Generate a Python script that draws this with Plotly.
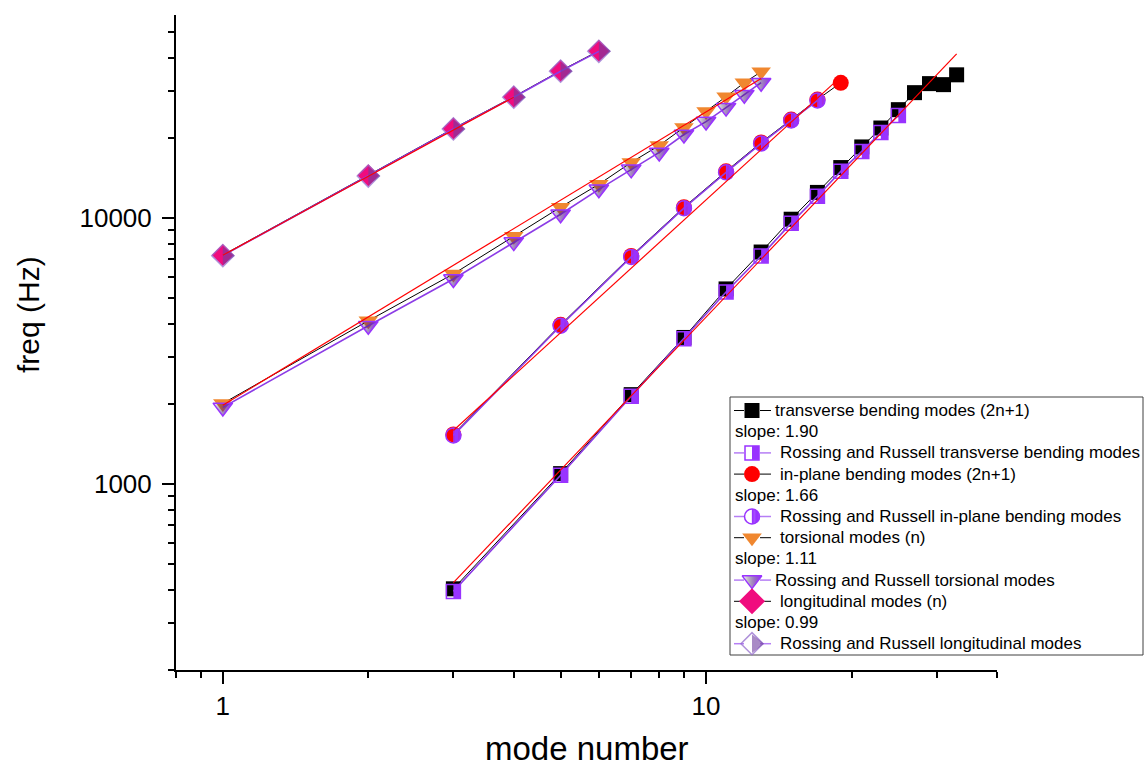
import math
import plotly.graph_objects as go

FONT = "Liberation Sans, Arial, Helvetica, sans-serif"

# ---------------- data ----------------
trans_n = [3, 5, 7, 9, 11, 13, 15, 17, 19, 21, 23, 25, 27, 29, 31, 33]
trans_f = [404, 1095, 2170, 3560, 5420, 7460, 9910, 12500, 15500, 18530,
           21830, 25590, 29650, 32060, 31780, 34600]
rr_trans_n = [3, 5, 7, 9, 11, 13, 15, 17, 19, 21, 23, 25]
rr_trans_f = [395, 1080, 2140, 3520, 5280, 7210, 9580, 12090, 15000, 17830,
              20990, 24330]
trans_fit_n = [3, 33]
trans_fit_f = [426, 41500]

inplane_n = [3, 5, 7, 9, 11, 13, 15, 17, 19]
inplane_f = [1538, 3973, 7210, 10990, 15000, 19260, 23490, 27920, 32290]
rr_inplane_n = [3, 5, 7, 9, 11, 13, 15, 17]
rr_inplane_f = [1525, 3940, 7150, 10900, 14870, 19100, 23300, 27700]
inplane_fit_n = [3, 19]
inplane_fit_f = [1590, 34000]

tors_n = [1, 2, 3, 4, 5, 6, 7, 8, 9, 10, 11, 12, 13]
tors_f = [2011, 4113, 6170, 8560, 11000, 13410, 16200, 18770, 21920, 25160,
          28630, 32320, 35530]
rr_tors_n = [1, 2, 3, 4, 5, 6, 7, 8, 9, 10, 11, 12, 13]
rr_tors_f = [1943, 3940, 5908, 8130, 10350, 12840, 15260, 17670, 20640, 23080,
             26040, 29140, 32320]
tors_fit_n = [1, 13]
tors_fit_f = [1980, 33500]

long_n = [1, 2, 3, 4, 5, 6]
long_f = [7266, 14490, 21740, 28630, 35840, 42590]
rr_long_n = [1, 2, 3, 4, 5, 6]
rr_long_f = [7230, 14400, 21650, 28500, 35700, 42400]
long_fit_n = [1, 4]
long_fit_f = [7250, 28500]

legend_labels = [
    "transverse bending modes (2n+1)", "slope: 1.90",
    "Rossing and Russell transverse bending modes",
    "in-plane bending modes (2n+1)", "slope: 1.66",
    "Rossing and Russell in-plane bending modes",
    "torsional modes (n)", "slope: 1.11",
    "Rossing and Russell torsional modes",
    "longitudinal modes (n)", "slope: 0.99",
    "Rossing and Russell longitudinal modes",
]
legend_kinds = ["m-square", None, "r-square", "m-circle", None, "r-circle",
                "m-triangle", None, "r-triangle", "m-diamond", None, "r-diamond"]

x_major = [1, 10]
x_major_text = ["1", "10"]
x_minor = [0.8, 0.9, 2, 3, 4, 5, 6, 7, 8, 9, 20, 30, 40]
y_major = [1000, 10000]
y_major_text = ["1000", "10000"]
y_minor = [200, 300, 400, 500, 600, 700, 800, 900,
           2000, 3000, 4000, 5000, 6000, 7000, 8000, 9000,
           20000, 30000, 40000, 50000]

# ---------------- styles ----------------
BLACK = "#000000"
PURPLE = "#9933FF"
PURPLE_LINE = "#8C3CE6"
PURPLE_LEG = "#B57EF5"
RED = "#FF0000"
ORANGE = "#F0872F"
PINK = "#F00C7E"
RL_FILL = "rgba(112,62,160,0.6)"
RL_EDGE = "rgba(150,110,205,0.75)"

MAIN_STYLE = {
    "square": dict(symbol="square", size=15, color=BLACK),
    "circle": dict(symbol="circle", size=16, color=RED),
    "triangle": dict(symbol="triangle-down", size=17, color=ORANGE),
    "diamond": dict(symbol="diamond", size=17, color=PINK),
}

# plot area in pixels
L, R, T, B = 176, 997, 15, 670
W, H = 1145, 769


def px2paper_x(px):
    return (px - L) / (R - L)


def px2paper_y(py):
    return (B - py) / (B - T)


fig = go.Figure()


def sc(**kw):
    kw.setdefault("showlegend", False)
    kw.setdefault("hoverinfo", "skip")
    kw.setdefault("cliponaxis", False)
    return go.Scatter(**kw)


def right_bar(x, y, xa, ya, offset, width, height, color):
    # vertical purple bar, shifted `offset` px to the right of the point
    return sc(x=x, y=y, xaxis=xa, yaxis=ya, mode="markers",
              marker=dict(symbol="line-ew", size=height / 1.4, angle=-90, standoff=offset,
                          color=color, line=dict(width=width, color=color)))


def rossing_marker_traces(x, y, kind, xa="x", ya="y"):
    out = []
    if kind == "square":
        out.append(right_bar(x, y, xa, ya, 3.5, 7, 14, PURPLE))
        out.append(sc(x=x, y=y, xaxis=xa, yaxis=ya, mode="markers",
                      marker=dict(symbol="square-open", size=14, color=PURPLE,
                                  line=dict(width=1.5, color=PURPLE))))
    elif kind == "circle":
        rad = 7.5
        nb = 6
        bw = rad / nb
        for k in range(nb):
            xc = (k + 0.5) * bw
            hh = 2 * math.sqrt(max(rad * rad - xc * xc, 0))
            out.append(right_bar(x, y, xa, ya, xc, bw + 0.3, hh, PURPLE))
        out.append(sc(x=x, y=y, xaxis=xa, yaxis=ya, mode="markers",
                      marker=dict(symbol="circle-open", size=15, color=PURPLE,
                                  line=dict(width=1.5, color=PURPLE))))
    elif kind == "triangle":
        out.append(sc(x=x, y=y, xaxis=xa, yaxis=ya, mode="markers",
                      marker=dict(symbol="triangle-down", size=17, color="rgba(0,0,0,0)",
                                  gradient=dict(type="horizontal", color=PURPLE),
                                  line=dict(width=1.5, color=PURPLE))))
    elif kind == "diamond":
        out.append(sc(x=x, y=y, xaxis=xa, yaxis=ya, mode="markers",
                      marker=dict(symbol="diamond-open", size=17, color=RL_EDGE,
                                  line=dict(width=1.5, color=RL_EDGE))))
        out.append(sc(x=x, y=y, xaxis=xa, yaxis=ya, mode="markers",
                      marker=dict(symbol="triangle-down", size=16, angle=-90, standoff=4,
                                  color=RL_FILL, line=dict(width=0))))
    return out


series = [
    ("square", trans_n, trans_f, rr_trans_n, rr_trans_f),
    ("circle", inplane_n, inplane_f, rr_inplane_n, rr_inplane_f),
    ("triangle", tors_n, tors_f, rr_tors_n, rr_tors_f),
    ("diamond", long_n, long_f, rr_long_n, rr_long_f),
]

# main series (black connecting lines)
for kind, mx, my, rx, ry in series:
    st = MAIN_STYLE[kind]
    fig.add_trace(sc(x=mx, y=my, mode="lines+markers",
                     line=dict(color=BLACK, width=1),
                     marker=dict(symbol=st["symbol"], size=st["size"], color=st["color"],
                                 line=dict(width=0))))

# Rossing & Russell series (purple lines + half-filled markers)
for kind, mx, my, rx, ry in series:
    fig.add_trace(sc(x=rx, y=ry, mode="lines", line=dict(color=PURPLE_LINE, width=1.6)))
    for t in rossing_marker_traces(rx, ry, kind):
        fig.add_trace(t)

# red power-law fit lines
for fx, fy in [(trans_fit_n, trans_fit_f), (inplane_fit_n, inplane_fit_f),
               (tors_fit_n, tors_fit_f), (long_fit_n, long_fit_f)]:
    fig.add_trace(sc(x=fx, y=fy, mode="lines", line=dict(color=RED, width=1.2)))

# ---------------- custom legend (overlay axes in pixel units) ----------------
row_y0, row_dy = 410.5, 21.2
sym_x = 752
text_x = [773, 733, 778, 778, 733, 778, 778, 733, 773, 778, 733, 778]
shapes = [dict(type="rect", xref="paper", yref="paper",
               x0=px2paper_x(730), x1=px2paper_x(1143),
               y0=px2paper_y(655), y1=px2paper_y(397),
               line=dict(color="#404040", width=1), fillcolor="white", layer="below")]
annotations = []
for i, (lab, kind) in enumerate(zip(legend_labels, legend_kinds)):
    yy = row_y0 + i * row_dy
    if kind is not None:
        who, shape = kind.split("-")
        lcol = BLACK if who == "m" else PURPLE_LEG
        lw = 1 if who == "m" else 1.5
        fig.add_trace(sc(x=[734, 744, None, 760, 771], y=[yy, yy, None, yy, yy],
                         xaxis="x2", yaxis="y2", mode="lines",
                         line=dict(color=lcol, width=lw)))
        if who == "m":
            st = MAIN_STYLE[shape]
            fig.add_trace(sc(x=[sym_x], y=[yy], xaxis="x2", yaxis="y2", mode="markers",
                             marker=dict(symbol=st["symbol"],
                                         size=st["size"] + (3 if shape == "diamond" else 0),
                                         color=st["color"], line=dict(width=0))))
        else:
            for t in rossing_marker_traces([sym_x], [yy], shape, xa="x2", ya="y2"):
                fig.add_trace(t)
    annotations.append(dict(x=px2paper_x(text_x[i]), y=px2paper_y(yy), xref="paper", yref="paper",
                            text=lab, showarrow=False, xanchor="left", yanchor="middle",
                            font=dict(family=FONT, size=17, color="black")))

# axis titles
annotations.append(dict(x=0.5, y=px2paper_y(748), xref="paper", yref="paper",
                        text="mode number", showarrow=False, xanchor="center", yanchor="middle",
                        font=dict(family=FONT, size=33, color="black")))
annotations.append(dict(x=px2paper_x(28), y=px2paper_y(315), xref="paper", yref="paper",
                        text="freq (Hz)", showarrow=False, textangle=-90,
                        xanchor="center", yanchor="middle",
                        font=dict(family=FONT, size=30, color="black")))

axis_common = dict(ticks="outside", ticklen=12, tickwidth=2, tickcolor="black",
                   showline=True, linecolor="black", linewidth=2, showgrid=False,
                   zeroline=False, tickfont=dict(family=FONT, size=26, color="black"),
                   tickmode="array")

fig.update_layout(
    width=W, height=769,
    margin=dict(l=L, r=W - R, t=T, b=769 - B, pad=0),
    paper_bgcolor="white", plot_bgcolor="white",
    showlegend=False,
    font=dict(family=FONT, color="black"),
    xaxis=dict(type="log", range=[math.log10(0.8), math.log10(40)],
               tickvals=x_major, ticktext=x_major_text,
               minor=dict(tickmode="array", tickvals=x_minor, ticks="outside", ticklen=6,
                          tickwidth=2, tickcolor="black", showgrid=False),
               **axis_common),
    yaxis=dict(type="log", range=[math.log10(200), 4.764],
               tickvals=y_major, ticktext=y_major_text, ticklabelstandoff=5,
               minor=dict(tickmode="array", tickvals=y_minor, ticks="outside", ticklen=6,
                          tickwidth=2, tickcolor="black", showgrid=False),
               **axis_common),
    xaxis2=dict(overlaying="x", range=[L, R], visible=False, anchor="y2", fixedrange=True),
    yaxis2=dict(overlaying="y", range=[B, T], visible=False, anchor="x2", fixedrange=True),
    shapes=shapes,
    annotations=annotations,
)

fig.write_html("out.html")
